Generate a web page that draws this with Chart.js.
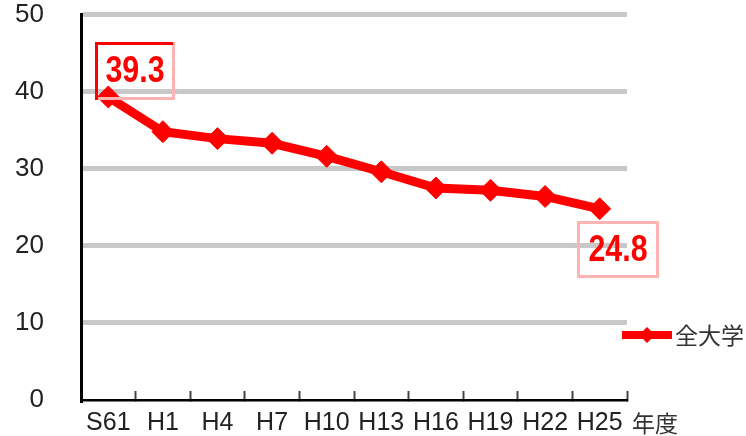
<!DOCTYPE html>
<html>
<head>
<meta charset="utf-8">
<script src="https://cdn.jsdelivr.net/npm/chart.js@4/dist/chart.umd.min.js"></script>
<style>
  html, body { margin: 0; padding: 0; background: #ffffff; }
  #wrap { width: 746px; height: 436px; position: relative; }
</style>
</head>
<body>
<div id="wrap"><canvas id="c" width="746" height="436"></canvas></div>
<script>
// ---- data ----
const categories = ['S61', 'H1', 'H4', 'H7', 'H10', 'H13', 'H16', 'H19', 'H22', 'H25'];
const seriesName = '全大学';
const values = [39.3, 34.8, 33.9, 33.3, 31.6, 29.6, 27.5, 27.2, 26.4, 24.8];
const yTicks = [0, 10, 20, 30, 40, 50];
const xUnit = '年度';

const RED = '#ff0000';

// value callout boxes on the first and last point (transparent boxes)
const calloutPlugin = {
  id: 'callouts',
  afterDatasetsDraw(chart) {
    const ctx = chart.ctx;
    const pts = chart.getDatasetMeta(0).data;
    const boxes = [
      { i: 0, dx: -13, dy: -55, w: 80, h: 58, strong: true },
      { i: pts.length - 1, dx: -23, dy: 12, w: 82, h: 57, strong: false }
    ];
    ctx.save();
    boxes.forEach(b => {
      const p = pts[b.i];
      const x = Math.round(p.x + b.dx), y = Math.round(p.y + b.dy);
      ctx.strokeStyle = '#ffb4b4';
      ctx.lineWidth = 3;
      ctx.strokeRect(x + 1.5, y + 1.5, b.w - 3, b.h - 3);
      if (b.strong) {
        ctx.strokeStyle = RED;
        ctx.beginPath();
        ctx.moveTo(x + 1.5, y + b.h);
        ctx.lineTo(x + 1.5, y + 1.5);
        ctx.lineTo(x + b.w - 2, y + 1.5);
        ctx.stroke();
      }
      ctx.fillStyle = RED;
      ctx.font = 'bold 33px "Liberation Sans", Arial, sans-serif';
      ctx.textAlign = 'center';
      ctx.textBaseline = 'middle';
      ctx.save();
      ctx.translate(x + b.w / 2, y + b.h / 2 + 1);
      ctx.scale(0.92, 1.1);
      ctx.fillText(values[b.i].toFixed(1), 0, 0);
      ctx.restore();
    });
    ctx.restore();
  }
};

// legend on the right + axis unit label
const extrasPlugin = {
  id: 'extras',
  afterDraw(chart) {
    const ctx = chart.ctx;
    const area = chart.chartArea;
    const ds = chart.data.datasets[0];
    ctx.save();
    const ly = 335, lx0 = 622, lx1 = 672;
    ctx.strokeStyle = ds.borderColor;
    ctx.lineWidth = 8;
    ctx.beginPath();
    ctx.moveTo(lx0, ly);
    ctx.lineTo(lx1, ly);
    ctx.stroke();
    ctx.fillStyle = ds.borderColor;
    ctx.beginPath();
    const cx = (lx0 + lx1) / 2, r = 8;
    ctx.moveTo(cx - r, ly); ctx.lineTo(cx, ly - r); ctx.lineTo(cx + r, ly); ctx.lineTo(cx, ly + r);
    ctx.closePath();
    ctx.fill();
    ctx.fillStyle = '#333333';
    ctx.font = '23px "Noto Sans CJK JP", sans-serif';
    ctx.textAlign = 'left';
    ctx.textBaseline = 'middle';
    ctx.fillText(ds.label, 675, ly);
    ctx.fillText(xUnit, area.right + 5, 423);
    ctx.restore();
  }
};

new Chart(document.getElementById('c'), {
  type: 'line',
  data: {
    labels: categories,
    datasets: [{
      label: seriesName,
      data: values,
      borderColor: RED,
      backgroundColor: RED,
      borderWidth: 9,
      tension: 0,
      pointStyle: 'rectRot',
      pointRadius: 11,
      pointBorderWidth: 1,
      pointBackgroundColor: RED,
      pointBorderColor: RED,
      borderJoinStyle: 'miter'
    }]
  },
  options: {
    responsive: false,
    animation: false,
    devicePixelRatio: 1,
    layout: { autoPadding: false, padding: { left: 0, top: 14.5, right: 119, bottom: 0 } },
    plugins: {
      legend: { display: false },
      tooltip: { enabled: false },
      title: { display: false }
    },
    scales: {
      x: {
        type: 'category',
        offset: true,
        grid: {
          offset: true,
          drawOnChartArea: false,
          drawTicks: true,
          tickLength: -9,
          tickWidth: 2,
          tickColor: '#444444'
        },
        border: { display: true, color: '#000000', width: 2.5 },
        ticks: {
          autoSkip: false,
          maxRotation: 0,
          minRotation: 0,
          color: '#222222',
          padding: 20,
          font: { family: '"Liberation Sans", Arial, sans-serif', size: 25, lineHeight: 1.0 }
        },
        afterFit(scale) {
          scale.height = 36;
          scale.paddingLeft = 0; scale.paddingRight = 0;
        }
      },
      y: {
        min: 0,
        max: 50,
        afterBuildTicks(scale) { scale.ticks = yTicks.map(v => ({ value: v })); },
        grid: {
          drawTicks: false,
          lineWidth: 5,
          color(ctx) { return ctx.tick && ctx.tick.value === 0 ? 'rgba(0,0,0,0)' : '#c8c8c8'; }
        },
        border: { display: true, color: '#000000', width: 3 },
        ticks: {
          color: '#222222',
          padding: 37,
          font: { family: '"Liberation Sans", Arial, sans-serif', size: 26, lineHeight: 1.0 }
        },
        afterFit(scale) {
          scale.width = 81;
          scale.paddingTop = 0; scale.paddingBottom = 0;
        }
      }
    }
  },
  plugins: [calloutPlugin, extrasPlugin]
});
</script>
</body>
</html>
